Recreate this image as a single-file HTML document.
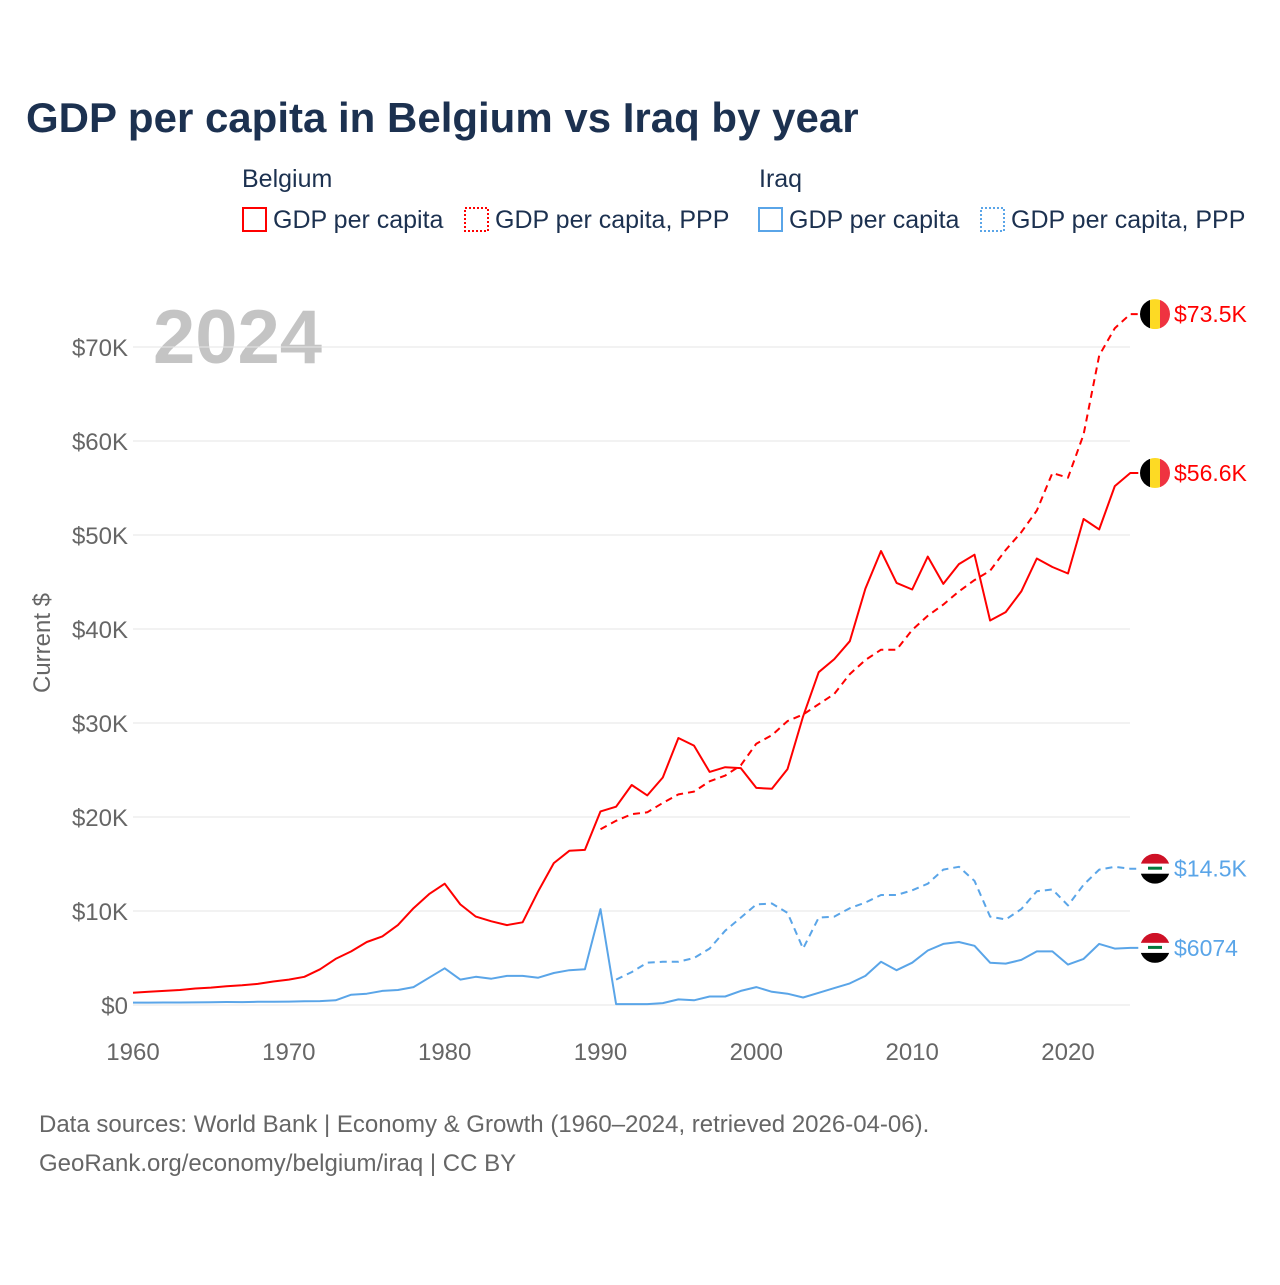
<!DOCTYPE html>
<html><head><meta charset="utf-8"><style>
body{margin:0;background:#fff;font-family:"Liberation Sans",sans-serif;}
svg text{font-family:"Liberation Sans",sans-serif;}
</style></head><body>
<svg id="chart" width="1280" height="1280" viewBox="0 0 1280 1280">
<text x="26" y="132" font-size="42" font-weight="bold" fill="#1c3150">GDP per capita in Belgium vs Iraq by year</text>
<g font-size="25" fill="#1c3150">
<text x="242" y="187">Belgium</text>
<text x="759" y="187">Iraq</text>
<g><rect x="243" y="208" width="23" height="23" fill="none" stroke="#f00" stroke-width="2"/><text x="273" y="228">GDP per capita</text></g>
<g><rect x="465" y="208" width="23" height="23" fill="none" stroke="#f00" stroke-width="2" stroke-dasharray="2,2"/><text x="495" y="228">GDP per capita, PPP</text></g>
<g><rect x="759" y="208" width="23" height="23" fill="none" stroke="#5aa5e8" stroke-width="2"/><text x="789" y="228">GDP per capita</text></g>
<g><rect x="981" y="208" width="23" height="23" fill="none" stroke="#5aa5e8" stroke-width="2" stroke-dasharray="2,2"/><text x="1011" y="228">GDP per capita, PPP</text></g>
</g>
<text x="153" y="363" font-size="76" font-weight="bold" fill="#c4c4c4">2024</text>
<text transform="translate(50,643) rotate(-90)" text-anchor="middle" font-size="24" fill="#666">Current $</text>
<g id="grid"></g><g id="series"></g><g id="ends"></g>
<text x="39" y="1132" font-size="24" fill="#666">Data sources: World Bank | Economy &amp; Growth (1960–2024, retrieved 2026-04-06).</text>
<text x="39" y="1171" font-size="24" fill="#666">GeoRank.org/economy/belgium/iraq | CC BY</text>
</svg>
<script>
const years=[];for(let y=1960;y<=2024;y++)years.push(y);
const yTicks=[0,10,20,30,40,50,60,70];
const xTicks=[1960,1970,1980,1990,2000,2010,2020];
const belgiumGdp=[1.3,1.4,1.5,1.6,1.75,1.85,2.0,2.1,2.25,2.5,2.7,3.0,3.8,4.9,5.7,6.7,7.3,8.5,10.3,11.8,12.9,10.7,9.4,8.9,8.5,8.8,12.1,15.1,16.4,16.5,20.6,21.1,23.4,22.3,24.2,28.4,27.6,24.8,25.3,25.2,23.1,23.0,25.1,30.7,35.4,36.8,38.7,44.3,48.3,44.9,44.2,47.7,44.8,46.9,47.9,40.9,41.8,44.0,47.5,46.6,45.9,51.7,50.6,55.2,56.6];
const belgiumPppYears=years.slice(30);
const belgiumPpp=[18.7,19.6,20.3,20.5,21.5,22.4,22.7,23.8,24.4,25.5,27.8,28.7,30.2,30.9,32.0,33.1,35.2,36.7,37.8,37.8,39.9,41.4,42.6,44.0,45.2,46.2,48.4,50.3,52.6,56.6,56.1,60.7,69.1,72.0,73.5];
const iraqGdp=[0.25,0.26,0.27,0.27,0.28,0.3,0.32,0.31,0.34,0.35,0.36,0.4,0.42,0.5,1.1,1.2,1.5,1.6,1.9,2.9,3.9,2.7,3.0,2.8,3.1,3.1,2.9,3.4,3.7,3.8,10.2,0.1,0.1,0.1,0.2,0.6,0.5,0.9,0.9,1.5,1.9,1.4,1.2,0.8,1.3,1.8,2.3,3.1,4.6,3.7,4.5,5.8,6.5,6.7,6.3,4.5,4.4,4.8,5.7,5.7,4.3,4.9,6.5,6.0,6.074];
const iraqPppYears=years.slice(31);
const iraqPpp=[2.7,3.5,4.5,4.6,4.6,5.0,6.0,7.9,9.3,10.7,10.8,9.8,6.0,9.3,9.4,10.3,10.9,11.7,11.7,12.2,12.9,14.4,14.7,13.2,9.4,9.1,10.2,12.1,12.3,10.6,12.8,14.4,14.7,14.5];
const endLabels=["$73.5K","$56.6K","$14.5K","$6074"];
const NS="http://www.w3.org/2000/svg";
const X=y=>133+(y-1960)*(1068-133)/60;
const Y=v=>1005-v*9.4;
function mk(tag,attrs,parent){const e=document.createElementNS(NS,tag);for(const k in attrs)e.setAttribute(k,attrs[k]);parent.appendChild(e);return e;}
const grid=document.getElementById('grid');
yTicks.forEach(t=>{
 const l=mk('line',{x1:133,x2:1130,y1:Y(t),y2:Y(t),stroke:'#e6e6e6','stroke-width':1},grid);
 
 
 const tx=mk('text',{x:128,y:Y(t)+9,'text-anchor':'end','font-size':24,fill:'#666'},grid);
 tx.textContent=t===0?'$0':'$'+t+'K';
 
 
});
xTicks.forEach(t=>{
 const tx=mk('text',{x:X(t),y:1060,'text-anchor':'middle','font-size':24,fill:'#666'},grid);
 tx.textContent=t;
 
 
});
const ser=document.getElementById('series');
function line(xs,vs,color,dash,name){
 const d=xs.map((y,i)=>(i?'L':'M')+X(y).toFixed(1)+','+Y(vs[i]).toFixed(1)).join('')+'h8';
 const p=mk('path',{d:d,fill:'none',stroke:color,'stroke-width':2,'stroke-dasharray':dash||'none','stroke-linejoin':'round'},ser);
 
 
}
line(iraqPppYears,iraqPpp,'#5aa5e8','7,5','line-iraq-ppp');
line(years,iraqGdp,'#5aa5e8','','line-iraq-gdp');
line(belgiumPppYears,belgiumPpp,'#f00','7,5','line-belgium-ppp');
line(years,belgiumGdp,'#f00','','line-belgium-gdp');
const ends=document.getElementById('ends');
const endVals=[belgiumPpp[belgiumPpp.length-1],belgiumGdp[64],iraqPpp[iraqPpp.length-1],iraqGdp[64]];
const endCols=['#f00','#f00','#5aa5e8','#5aa5e8'];
const fx=1155;
endVals.forEach((v,i)=>{
 const cy=Y(v);const g=mk('g',{},ends);
 
 
 const id='c'+i;const cp=mk('clipPath',{id:id},g);mk('circle',{cx:fx,cy:cy,r:15},cp);
 const cg=mk('g',{'clip-path':'url(#'+id+')'},g);
 if(i<2){['#000','#fdda24','#ef3340'].forEach((c,k)=>mk('rect',{x:fx-15+k*10,y:cy-15,width:10,height:30,fill:c},cg));}
 else{['#ce1126','#fff','#000'].forEach((c,k)=>mk('rect',{x:fx-15,y:cy-15+k*10,width:30,height:10,fill:c},cg));
  mk('rect',{x:fx-7,y:cy-2,width:14,height:3,fill:'#007a3d'},cg);}
 const t=mk('text',{x:1174,y:cy+8,'font-size':23,fill:endCols[i]},ends);
 t.textContent=endLabels[i];
 
 
});
</script>
</body></html>
